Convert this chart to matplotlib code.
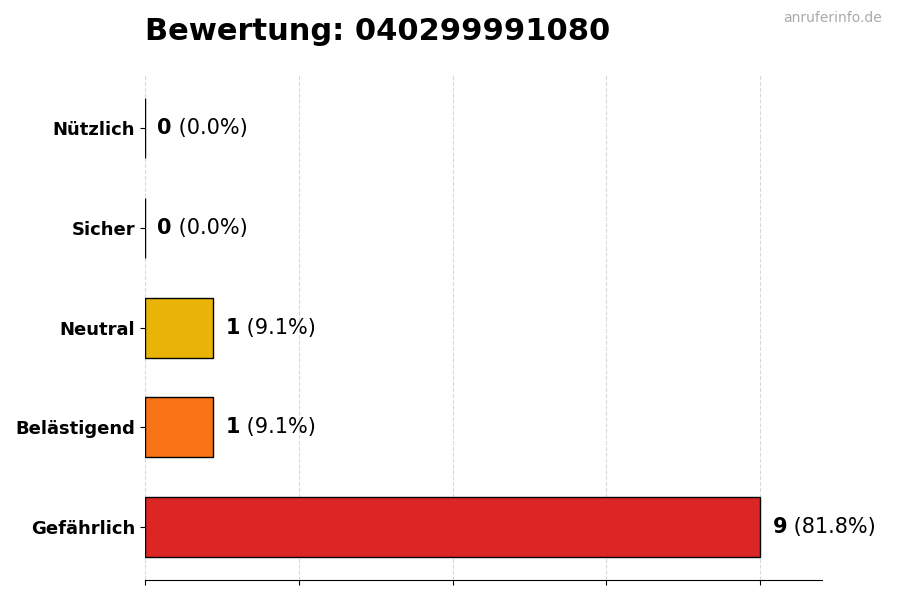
import matplotlib
matplotlib.use('agg')
import matplotlib.pyplot as plt
import numpy as np

# Daten
kategorien = ['Gefährlich', 'Belästigend', 'Neutral', 'Sicher', 'Nützlich']
anzahl = [9, 1, 1, 0, 0]
prozent = [81.8, 9.1, 9.1, 0.0, 0.0]
farben = ['#dc2626', '#f97316', '#eab308', '#22c55e', '#16a34a']
titel = 'Bewertung: 040299991080'

fig, ax = plt.subplots(figsize=(9, 6), dpi=100)
fig.subplots_adjust(left=0.161, right=0.913, top=0.875, bottom=0.033)

y = np.arange(len(kategorien))
ax.barh(y, anzahl, height=0.6, color=farben, edgecolor='black', linewidth=1)

maxwert = max(anzahl)
ax.set_xlim(0, maxwert * 1.1)
ax.set_xticks(np.linspace(0, maxwert, 5))
ax.set_xticklabels([])
ax.set_yticks(y)
ax.set_yticklabels(kategorien, fontsize=13, fontweight='bold')
ax.grid(axis='x', linestyle='--', color='#d9d9d9', linewidth=0.8)
ax.set_axisbelow(True)

for s in ['top', 'right', 'left']:
    ax.spines[s].set_visible(False)

# Beschriftung: Anzahl fett, Prozent normal
for i in range(len(kategorien)):
    t = ax.text(anzahl[i] + maxwert * 0.02, y[i], str(anzahl[i]),
                fontsize=15, fontweight='bold', va='center', ha='left')
    ax.annotate(f' ({prozent[i]:.1f}%)', xy=(1, 0.5), xycoords=t,
                fontsize=15, va='center', ha='left')

ax.set_title(titel, loc='left', fontsize=22, fontweight='bold', pad=25)
fig.text(0.98, 0.97, 'anruferinfo.de', fontsize=10, color='#aaaaaa',
         ha='right', va='center')

fig.savefig('out.png')
